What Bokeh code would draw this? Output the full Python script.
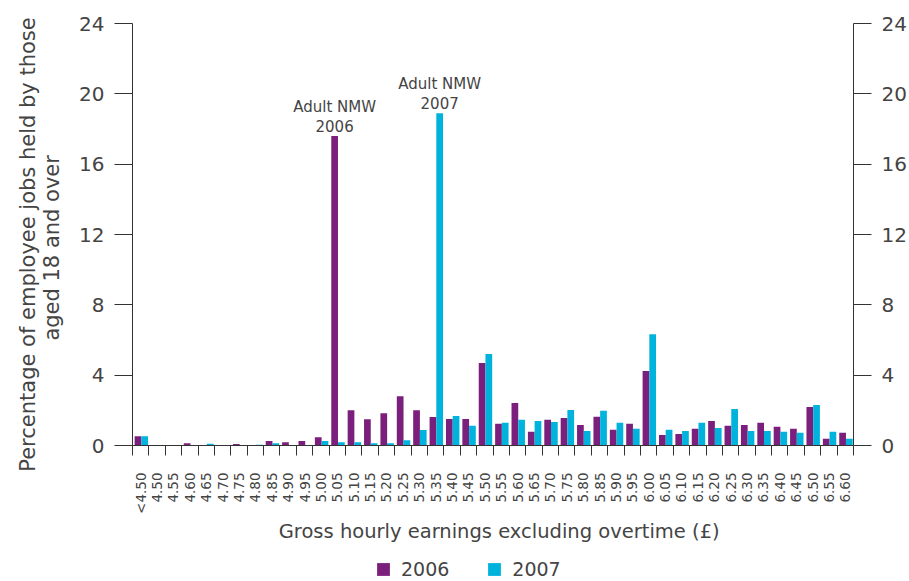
import numpy as np
from bokeh.plotting import figure
from bokeh.layouts import column
from bokeh.models import Range1d, FixedTicker, LinearAxis, Legend, LegendItem
from bokeh.embed import file_html
from bokeh.resources import INLINE
from bokeh.core.properties import value

cats = ["<4.50", "4.50", "4.55", "4.60", "4.65", "4.70", "4.75", "4.80", "4.85",
        "4.90", "4.95", "5.00", "5.05", "5.10", "5.15", "5.20", "5.25", "5.30",
        "5.35", "5.40", "5.45", "5.50", "5.55", "5.60", "5.65", "5.70", "5.75",
        "5.80", "5.85", "5.90", "5.95", "6.00", "6.05", "6.10", "6.15", "6.20",
        "6.25", "6.30", "6.35", "6.40", "6.45", "6.50", "6.55", "6.60"]
v2006 = [0.53, 0.02, 0.02, 0.13, 0.02, 0.02, 0.08, 0.02, 0.25, 0.19, 0.25, 0.47,
         17.6, 2.0, 1.5, 1.83, 2.8, 2.0, 1.62, 1.51, 1.51, 4.69, 1.23, 2.42,
         0.78, 1.46, 1.57, 1.17, 1.63, 0.89, 1.23, 4.23, 0.6, 0.66, 0.95, 1.40,
         1.12, 1.17, 1.29, 1.06, 0.95, 2.19, 0.38, 0.72]
v2007 = [0.53, 0.02, 0.02, 0.02, 0.1, 0.03, 0.02, 0.04, 0.13, 0.02, 0.02, 0.25,
         0.19, 0.19, 0.13, 0.13, 0.3, 0.88, 18.9, 1.68, 1.12, 5.2, 1.29, 1.46,
         1.40, 1.34, 2.02, 0.83, 1.97, 1.29, 0.95, 6.33, 0.89, 0.83, 1.29, 1.0,
         2.08, 0.83, 0.83, 0.78, 0.72, 2.31, 0.78, 0.38]
y_ticks = [0, 4, 8, 12, 16, 20, 24]
series_names = ["2006", "2007"]
note_texts = ["Adult NMW\n2006", "Adult NMW\n2007"]
note_cats = ["5.05", "5.35"]
note_series = ["2006", "2007"]

FONT = "DejaVu Sans"
TXT = "#444444"
AX = "#333333"
C06 = "#7b1f7c"
C07 = "#00b3dc"
NB = "\u00a0"

n = len(cats)
idx = np.arange(n)
bw = 0.41
off06 = -0.165
off07 = 0.245

fig = figure(width=909, height=553,
             x_range=Range1d(-0.5, n - 0.5), y_range=Range1d(0, 24),
             output_backend="svg", toolbar_location=None,
             min_border_left=132, min_border_right=52,
             min_border_top=23, min_border_bottom=108)
fig.outline_line_color = None
fig.grid.visible = False

r06 = fig.vbar(x=idx + off06, top=v2006, width=bw, color=C06, line_color=None)
r07 = fig.vbar(x=idx + off07, top=v2007, width=bw, color=C07, line_color=None)

# annotations above the NMW bars
series_vals = {"2006": v2006, "2007": v2007}
series_off = {"2006": off06, "2007": off07}
nx = [cats.index(c) + series_off[s] for c, s in zip(note_cats, note_series)]
ny = [series_vals[s][cats.index(c)] for c, s in zip(note_cats, note_series)]
fig.text(x=nx, y=ny, text=note_texts, text_align="center", text_baseline="bottom",
         y_offset=0, text_font=value(FONT), text_font_size="15px",
         text_color=TXT, text_line_height=1.13)

# x axis: labels at category centres, ticks at category boundaries
xa = fig.xaxis[0]
xa.ticker = FixedTicker(ticks=list(idx), minor_ticks=list(np.arange(n + 1) - 0.5))
xa.major_label_overrides = {int(i): c for i, c in zip(idx, cats)}
xa.major_label_orientation = np.pi / 2
xa.major_tick_line_color = None
xa.major_tick_out = 0
xa.major_tick_in = 0
xa.minor_tick_out = 10
xa.minor_tick_in = 0
xa.minor_tick_line_color = AX
xa.axis_line_color = AX
xa.major_label_standoff = 17
xa.major_label_text_font = FONT
xa.major_label_text_font_size = "13.5px"
xa.major_label_text_color = TXT
xa.axis_label = NB * 2 + "Gross hourly earnings excluding overtime (£)"
xa.axis_label_text_font = FONT
xa.axis_label_text_font_size = "19.5px"
xa.axis_label_text_font_style = "normal"
xa.axis_label_text_color = TXT
xa.axis_label_standoff = 3

# left axis
ya = fig.yaxis[0]
ya.ticker = FixedTicker(ticks=y_ticks)
ya.minor_tick_line_color = None
ya.major_tick_out = 18
ya.major_tick_in = 0
ya.major_tick_line_color = AX
ya.axis_line_color = AX
ya.major_label_standoff = 10
ya.major_label_text_font = FONT
ya.major_label_text_font_size = "20px"
ya.major_label_text_color = TXT
ya.axis_label = ("Percentage of employee jobs held by those" + NB * 3 + "\n"
                 + "aged 18 and over" + NB * 4)
ya.axis_label_text_font = FONT
ya.axis_label_text_font_size = "21px"
ya.axis_label_text_font_style = "normal"
ya.axis_label_text_color = TXT
ya.axis_label_text_line_height = 1.0
ya.axis_label_standoff = 12

# right axis
ra = LinearAxis(ticker=FixedTicker(ticks=y_ticks))
ra.minor_tick_line_color = None
ra.major_tick_out = 18
ra.major_tick_in = 0
ra.major_tick_line_color = AX
ra.axis_line_color = AX
ra.major_label_standoff = 10
ra.major_label_text_font = FONT
ra.major_label_text_font_size = "20px"
ra.major_label_text_color = TXT
fig.add_layout(ra, "right")

# legend strip below the chart; its proxy renderers are hidden (legend still draws swatches)
lf = figure(width=909, height=28, x_range=Range1d(-0.5, n - 0.5), y_range=Range1d(0, 24),
            output_backend="svg", toolbar_location=None,
            min_border=0, min_border_left=0, min_border_right=0,
            min_border_top=0, min_border_bottom=0)
lf.xaxis.visible = False
lf.yaxis.visible = False
lf.grid.visible = False
lf.outline_line_color = None
l06 = lf.vbar(x=idx + off06, top=v2006, width=bw, color=C06, line_color=None)
l07 = lf.vbar(x=idx + off07, top=v2007, width=bw, color=C07, line_color=None)
l06.visible = False
l07.visible = False
legend = Legend(items=[LegendItem(label=series_names[0], renderers=[l06]),
                       LegendItem(label=series_names[1], renderers=[l07])],
                orientation="horizontal", location=(243, 1), click_policy="none",
                border_line_color=None, background_fill_alpha=0,
                label_text_font=FONT, label_text_font_size="19px",
                label_text_color=TXT, glyph_width=16, glyph_height=16,
                label_standoff=10, spacing=37, padding=0, margin=0)
lf.add_layout(legend, "center")

p = column(fig, lf, spacing=0)

open("out.html", "w").write(file_html(p, INLINE))
